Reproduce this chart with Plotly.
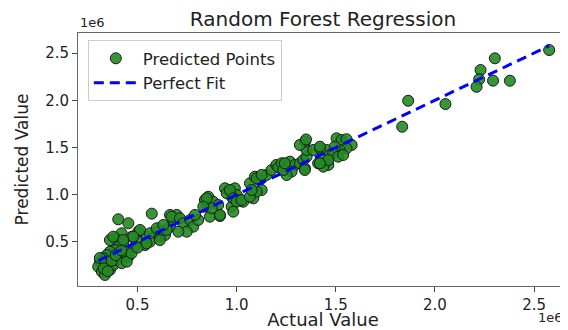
import plotly.graph_objects as go

# Values in millions (axis offset shown as "1e6")
actual = [
    2.576, 2.302, 2.230, 2.223, 2.210, 2.293, 2.378, 1.865, 2.053, 1.835,
    0.403, 0.454, 0.572, 0.420, 0.387, 0.361, 0.504, 0.471, 0.428, 0.403,
    0.387, 0.361, 0.345, 0.328, 0.311, 0.302, 0.320, 0.336, 0.361, 0.378,
    0.395, 0.412, 0.446, 0.454, 0.420, 0.446, 0.513, 0.487, 0.546, 0.563,
    0.538, 0.597, 0.613, 0.639, 0.664, 0.681, 0.698, 0.664,
    0.310, 0.340, 0.370, 0.330, 0.350, 0.390, 0.420, 0.470, 0.500,
    0.513, 0.563, 0.479, 0.378, 0.428, 0.546, 0.613, 0.597, 0.647, 0.672,
    0.714, 0.731, 0.765, 0.781, 0.748, 0.706, 0.630, 0.806, 0.790, 0.865,
    0.916, 0.840, 0.857, 0.882, 0.907, 0.849, 0.874, 0.941, 0.966, 0.991,
    0.975, 1.000, 1.017, 0.975, 1.033, 1.067, 1.092, 1.117, 1.126, 1.084,
    1.101, 1.151, 1.176, 1.200,
    0.849, 0.832, 0.916, 0.950, 0.966, 0.983, 1.000, 0.983, 1.025, 1.067,
    1.076, 1.101, 1.126, 1.210, 1.227, 1.252, 1.269, 1.294, 1.277, 1.252,
    1.235, 1.319, 1.344, 1.336, 1.353, 1.353, 1.344, 1.319, 1.386, 1.420,
    1.454, 1.437, 1.470, 1.411, 1.462, 1.437, 1.504, 1.529, 1.554, 1.580,
    1.554, 1.520, 1.495, 1.487, 1.512, 1.537, 1.350, 1.243, 1.344, 1.420,
    1.462, 1.420,
]
predicted = [
    2.532, 2.444, 2.320, 2.222, 2.143, 2.207, 2.207, 1.995, 1.960, 1.720,
    0.740, 0.698, 0.800, 0.592, 0.539, 0.521, 0.609, 0.556, 0.486, 0.450,
    0.415, 0.397, 0.362, 0.327, 0.292, 0.239, 0.186, 0.151, 0.204, 0.257,
    0.310, 0.345, 0.397, 0.345, 0.275, 0.292, 0.503, 0.450, 0.556, 0.503,
    0.468, 0.609, 0.556, 0.574, 0.662, 0.733, 0.786, 0.786,
    0.330, 0.280, 0.300, 0.220, 0.190, 0.360, 0.410, 0.380, 0.440,
    0.627, 0.592, 0.556, 0.556, 0.521, 0.486, 0.520, 0.645, 0.627, 0.768,
    0.751, 0.698, 0.733, 0.662, 0.609, 0.609, 0.680, 0.733, 0.786, 0.768,
    0.775, 0.944, 0.979, 0.926, 0.891, 0.874, 0.857, 1.068, 1.033, 1.068,
    0.979, 0.997, 0.944, 0.874, 0.926, 1.121, 1.191, 1.156, 1.050, 0.962,
    1.033, 1.209, 1.262, 1.315,
    0.962, 0.874, 0.786, 1.016, 1.050, 0.962, 0.926, 0.821, 0.944, 0.979,
    1.050, 1.174, 1.209, 1.290, 1.333, 1.297, 1.350, 1.315, 1.244, 1.209,
    1.262, 1.333, 1.280, 1.368, 1.403, 1.474, 1.562, 1.527, 1.474, 1.491,
    1.474, 1.421, 1.421, 1.333, 1.315, 1.297, 1.597, 1.579, 1.587, 1.527,
    1.491, 1.474, 1.509, 1.439, 1.403, 1.421, 1.585, 1.333, 1.262, 1.509,
    1.368, 1.333,
]

x_ticks = [0.5, 1.0, 1.5, 2.0, 2.5]
y_ticks = [0.5, 1.0, 1.5, 2.0, 2.5]

lo = min(actual)
hi = max(actual)

# page body has an 8px margin; figure sized so it ends at the window edge
W, H = 560, 322
font = "DejaVu Sans"
fig = go.Figure()
fig.add_trace(go.Scatter(
    x=actual, y=predicted, mode="markers", name="Predicted Points",
    marker=dict(size=11, color="rgba(34,139,34,0.9)",
                line=dict(color="#1a1a1a", width=1)),
))
fig.add_trace(go.Scatter(
    x=[lo, hi], y=[lo, hi], mode="lines", name="Perfect Fit",
    line=dict(color="#0000ff", width=3, dash="10px,6px"),
))

fig.update_layout(
    width=W, height=H,
    margin=dict(l=70, r=0, t=25, b=44),
    paper_bgcolor="white", plot_bgcolor="white",
    font=dict(family=font, color="#222"),
    title=dict(text="Random Forest Regression", x=315/W, xanchor="center",
               y=1 - 4/H, yanchor="top",
               font=dict(size=20, family=font, color="#222")),
    showlegend=True,
    legend=dict(x=0.02, y=0.972, xanchor="left", yanchor="top",
                bgcolor="white", bordercolor="#cccccc", borderwidth=1,
                itemwidth=44, tracegroupgap=0,
                font=dict(size=16.5, family=font, color="#222")),
    annotations=[
        dict(text="1e6", xref="paper", yref="paper", x=0.0, y=1.0,
             xanchor="left", yanchor="bottom", showarrow=False, yshift=1,
             font=dict(size=13, family=font, color="#222")),
        dict(text="1e6", xref="paper", yref="paper", x=1.0, y=0.0,
             xanchor="right", yanchor="top", showarrow=False, yshift=-22, xshift=-3,
             font=dict(size=13, family=font, color="#222")),
    ],
)
fig.update_xaxes(
    range=[0.2, 2.671], tickvals=x_ticks, ticktext=[f"{v:.1f}" for v in x_ticks],
    showgrid=False, zeroline=False, showline=True, linecolor="#666", linewidth=1,
    mirror=True, ticks="outside", ticklen=5, tickcolor="#444", automargin=False,
    tickfont=dict(size=15, family=font, color="#222"),
    title=dict(text="Actual Value", standoff=9, font=dict(size=18, family=font, color="#222")),
)
fig.update_yaxes(
    range=[0.034, 2.712], tickvals=y_ticks, ticktext=[f"{v:.1f}" for v in y_ticks],
    showgrid=False, zeroline=False, showline=True, linecolor="#666", linewidth=1,
    ticks="outside", ticklen=5, tickcolor="#444", automargin=False,
    tickfont=dict(size=15, family=font, color="#222"),
    title=dict(text="Predicted Value", standoff=12, font=dict(size=17, family=font, color="#222")),
)

fig.write_html("out.html")
